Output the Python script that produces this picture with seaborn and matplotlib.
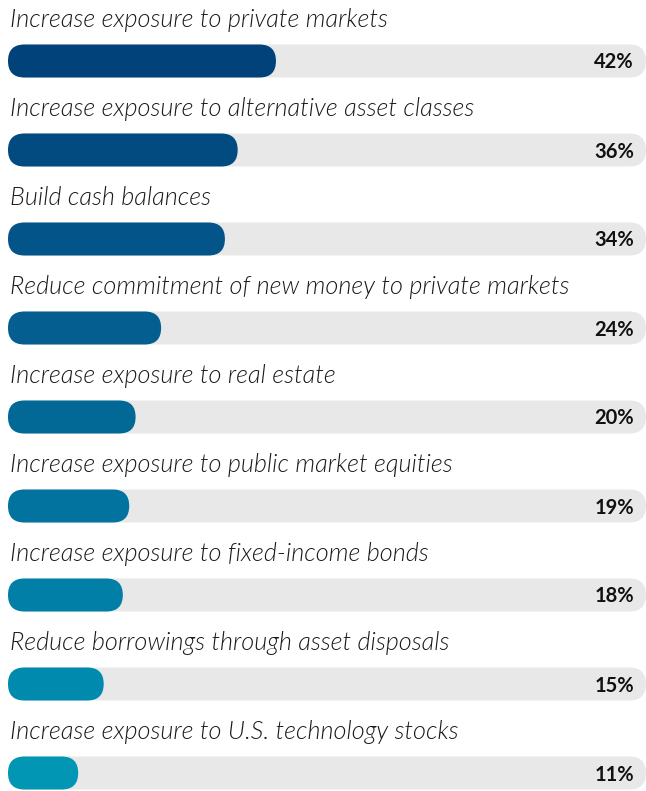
import matplotlib
matplotlib.use('Agg')
import matplotlib.pyplot as plt
from matplotlib.patches import FancyBboxPatch
import seaborn as sns
import pandas as pd


# ----------------------------------------------Chart data-----------------------------------------------

labels = [
	'Increase exposure to private markets',
	'Increase exposure to alternative asset classes',
	'Build cash balances',
	'Reduce commitment of new money to private markets',
	'Increase exposure to real estate',
	'Increase exposure to public market equities',
	'Increase exposure to fixed-income bonds',
	'Reduce borrowings through asset disposals',
	'Increase exposure to U.S. technology stocks',
]
values = [42, 36, 34, 24, 20, 19, 18, 15, 11]
track = [100] * len(values)

bar_colors = ['#01427A', '#024B81', '#035488', '#045E8F', '#026896',
			  '#01739E', '#017FA6', '#008AAD', '#0096B4']
track_color = '#E8E8E8'

# Figure geometry (pixels)
px_per_pct = 6.38
px_per_row = 89
bar_h = 0.371

df = pd.DataFrame({'label': labels, 'value': values, 'track': track})

sns.set_theme(style='white')
plt.rcParams['font.family'] = ['Lato', 'DejaVu Sans']

fig = plt.figure(figsize=(6.46, 7.91), dpi=100)
ax = fig.add_axes([0, 0, 1, 1])

# Background tracks then coloured bars
sns.barplot(data=df, x='track', y='label', orient='h', color=track_color, saturation=1,
			width=bar_h, ax=ax)
sns.barplot(data=df, x='value', y='label', orient='h', hue='label', palette=bar_colors,
			saturation=1, legend=False, width=bar_h, ax=ax)

ax.set_xlim(-8 / px_per_pct, (646 - 8) / px_per_pct)
ax.set_ylim(8 + (791 - 773) / px_per_row, -61 / px_per_row)
ax.axis('off')

# Swap the square bars for pill shaped ones
r = (bar_h / 2) * px_per_row / px_per_pct
aspect = px_per_pct / px_per_row
for patch in list(ax.patches):
	pill = FancyBboxPatch(
		(patch.get_x(), patch.get_y()), patch.get_width(), patch.get_height(),
		boxstyle=f'round,pad=0,rounding_size={r}', mutation_aspect=aspect,
		facecolor=patch.get_facecolor(), edgecolor='none', zorder=patch.get_zorder())
	patch.remove()
	ax.add_patch(pill)

# Labels above bars and percentages at the right
for i, (label, value) in enumerate(zip(labels, values)):
	ax.text(0.25, i - 34 / px_per_row, label, ha='left', va='baseline', fontsize=18.2,
			style='italic', fontweight=300, color='#1a1a1a')
	ax.text((634 - 8) / px_per_pct, i + 7.5 / px_per_row, f'{value}%', ha='right', va='baseline',
			fontsize=14.5, fontweight='bold', color='#111111')

fig.savefig('out.png', dpi=100)
